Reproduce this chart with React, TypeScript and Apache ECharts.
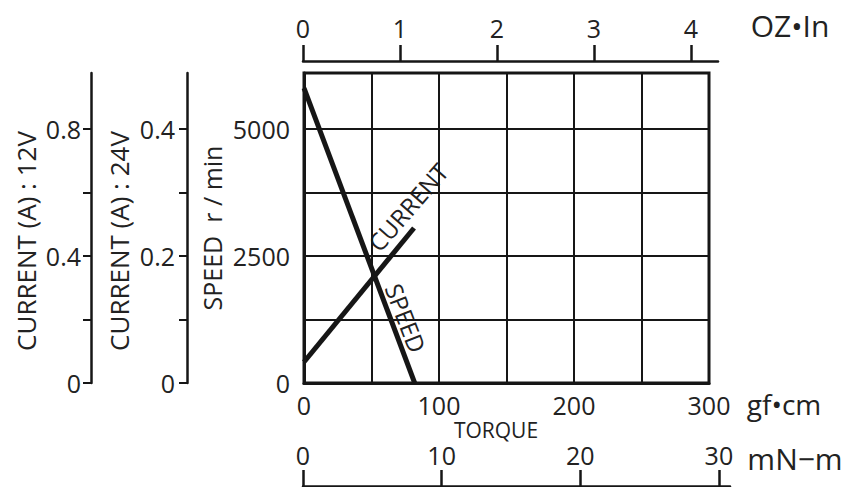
import React, { useEffect, useRef } from "react";
import * as echarts from "echarts";

// Torque (gf·cm) / speed (r/min) points of the SPEED line
const speedTorque = [0, 82];
const speedRpm = [5800, 0];
// Torque (gf·cm) / current at 24V (A) points of the CURRENT line
const currentTorque = [0, 81.5];
const current24V = [0.033, 0.244];

// tick labels
const gfcmLabels = [0, 100, 200, 300];
const ozInTicks = [0, 1, 2, 3, 4];
const mNmTicks = [0, 10, 20, 30];
const speedLabels = [0, 2500, 5000];
const current24Ticks = [0, 0.1, 0.2, 0.3, 0.4];
const current24Labels = [0, 0.2, 0.4];
const current12Ticks = [0, 0.2, 0.4, 0.6, 0.8];
const current12Labels = [0, 0.4, 0.8];

const FONT = "Open Sans";
const INK = "#161616";
const TXT = "#222";

const fmt = (v: number) => (v === 0 ? "0" : Number.isInteger(v) ? String(v) : v.toFixed(1));

export default function App() {
  const ref = useRef<HTMLDivElement>(null);
  useEffect(() => {
    if (!ref.current) return;
    const chart = echarts.init(ref.current, undefined, { renderer: "svg" });
    const label = (custom: number[], margin: number) => ({
      customValues: custom,
      fontFamily: FONT,
      fontSize: 25,
      color: TXT,
      margin,
      formatter: (v: number) => fmt(v),
    });
    chart.setOption({
      animation: false,
      backgroundColor: "#fff",
      textStyle: { fontFamily: FONT },
      grid: [
        { left: 304, top: 73, width: 405, height: 310, show: true, borderColor: INK, borderWidth: 3, backgroundColor: "transparent" },
        { left: 303, top: 61, width: 415, height: 8 },
        { left: 303, top: 486, width: 427, height: 8 },
      ],
      xAxis: [
        {
          gridIndex: 0, type: "value", min: 0, max: 300, interval: 50, position: "bottom",
          axisLine: { show: true, lineStyle: { color: INK, width: 3 } },
          axisTick: { show: false },
          axisLabel: label(gfcmLabels, 9),
          splitLine: { show: true, lineStyle: { color: INK, width: 2 } },
        },
        {
          gridIndex: 1, type: "value", min: 0, max: 4.28, position: "top",
          axisLine: { show: true, onZero: false, lineStyle: { color: INK, width: 2.5 } },
          axisTick: { show: true, customValues: ozInTicks, length: 16, lineStyle: { color: INK, width: 2.5 } },
          axisLabel: label(ozInTicks, 21),
          splitLine: { show: false },
        },
        {
          gridIndex: 2, type: "value", min: 0, max: 30.8, position: "top",
          axisLine: { show: true, onZero: false, lineStyle: { color: INK, width: 2.5 } },
          axisTick: { show: true, customValues: mNmTicks, length: 16, lineStyle: { color: INK, width: 2.5 } },
          axisLabel: label(mNmTicks, 19),
          splitLine: { show: false },
        },
      ],
      yAxis: [
        {
          gridIndex: 0, type: "value", min: 0, max: 6100, interval: 1250, position: "left",
          axisLine: { show: true, lineStyle: { color: INK, width: 3 } },
          axisTick: { show: false },
          axisLabel: label(speedLabels, 14),
          splitLine: { show: true, lineStyle: { color: INK, width: 2 } },
        },
        {
          gridIndex: 0, type: "value", min: 0, max: 0.488, position: "left", offset: 117,
          axisLine: { show: true, onZero: false, lineStyle: { color: INK, width: 2.5 } },
          axisTick: { show: true, customValues: current24Ticks, length: 8, lineStyle: { color: INK, width: 2 } },
          axisLabel: label(current24Labels, 12),
          splitLine: { show: false },
        },
        {
          gridIndex: 0, type: "value", min: 0, max: 0.976, position: "left", offset: 213,
          axisLine: { show: true, onZero: false, lineStyle: { color: INK, width: 2.5 } },
          axisTick: { show: true, customValues: current12Ticks, length: 8, lineStyle: { color: INK, width: 2 } },
          axisLabel: label(current12Labels, 10),
          splitLine: { show: false },
        },
        { gridIndex: 1, type: "value", min: 0, max: 1, show: false },
        { gridIndex: 2, type: "value", min: 0, max: 1, show: false },
      ],
      series: [
        {
          name: "SPEED", type: "line", xAxisIndex: 0, yAxisIndex: 0, symbol: "none",
          lineStyle: { color: INK, width: 5 },
          data: speedTorque.map((t, i) => [t, speedRpm[i]]),
        },
        {
          name: "CURRENT", type: "line", xAxisIndex: 0, yAxisIndex: 1, symbol: "none",
          lineStyle: { color: INK, width: 5 },
          data: currentTorque.map((t, i) => [t, current24V[i]]),
        },
      ],
      graphic: [
        { type: "text", x: 26, y: 241, rotation: Math.PI / 2, style: { text: "CURRENT (A) : 12V", font: `26px "${FONT}"`, fill: TXT, textAlign: "center", textVerticalAlign: "middle" } },
        { type: "text", x: 119, y: 241, rotation: Math.PI / 2, style: { text: "CURRENT (A) : 24V", font: `26px "${FONT}"`, fill: TXT, textAlign: "center", textVerticalAlign: "middle" } },
        { type: "text", x: 212, y: 228, rotation: Math.PI / 2, style: { text: "SPEED  r / min", font: `25px "${FONT}"`, fill: TXT, textAlign: "center", textVerticalAlign: "middle" } },
        { type: "text", x: 496, y: 430, style: { text: "TORQUE", font: `21px "${FONT}"`, fill: TXT, textAlign: "center", textVerticalAlign: "middle" } },
        { type: "text", x: 784, y: 404, style: { text: "gf•cm", font: `28px "${FONT}"`, fill: TXT, textAlign: "center", textVerticalAlign: "middle" } },
        { type: "text", x: 790, y: 25, style: { text: "OZ•In", font: `30px "${FONT}"`, fill: TXT, textAlign: "center", textVerticalAlign: "middle" } },
        { type: "text", x: 795, y: 458, style: { text: "mN−m", font: `30px "${FONT}"`, fill: TXT, textAlign: "center", textVerticalAlign: "middle" } },
        { type: "text", x: 408, y: 207, rotation: (49 * Math.PI) / 180, style: { text: "CURRENT", font: `24px "${FONT}"`, fill: TXT, textAlign: "center", textVerticalAlign: "middle" } },
        { type: "text", x: 406, y: 318, rotation: (-69 * Math.PI) / 180, style: { text: "SPEED", font: `24px "${FONT}"`, fill: TXT, textAlign: "center", textVerticalAlign: "middle" } },
      ],
    });
    return () => chart.dispose();
  }, []);
  return <div ref={ref} style={{ position: "fixed", left: 0, top: 0, width: 851, height: 487 }} />;
}
